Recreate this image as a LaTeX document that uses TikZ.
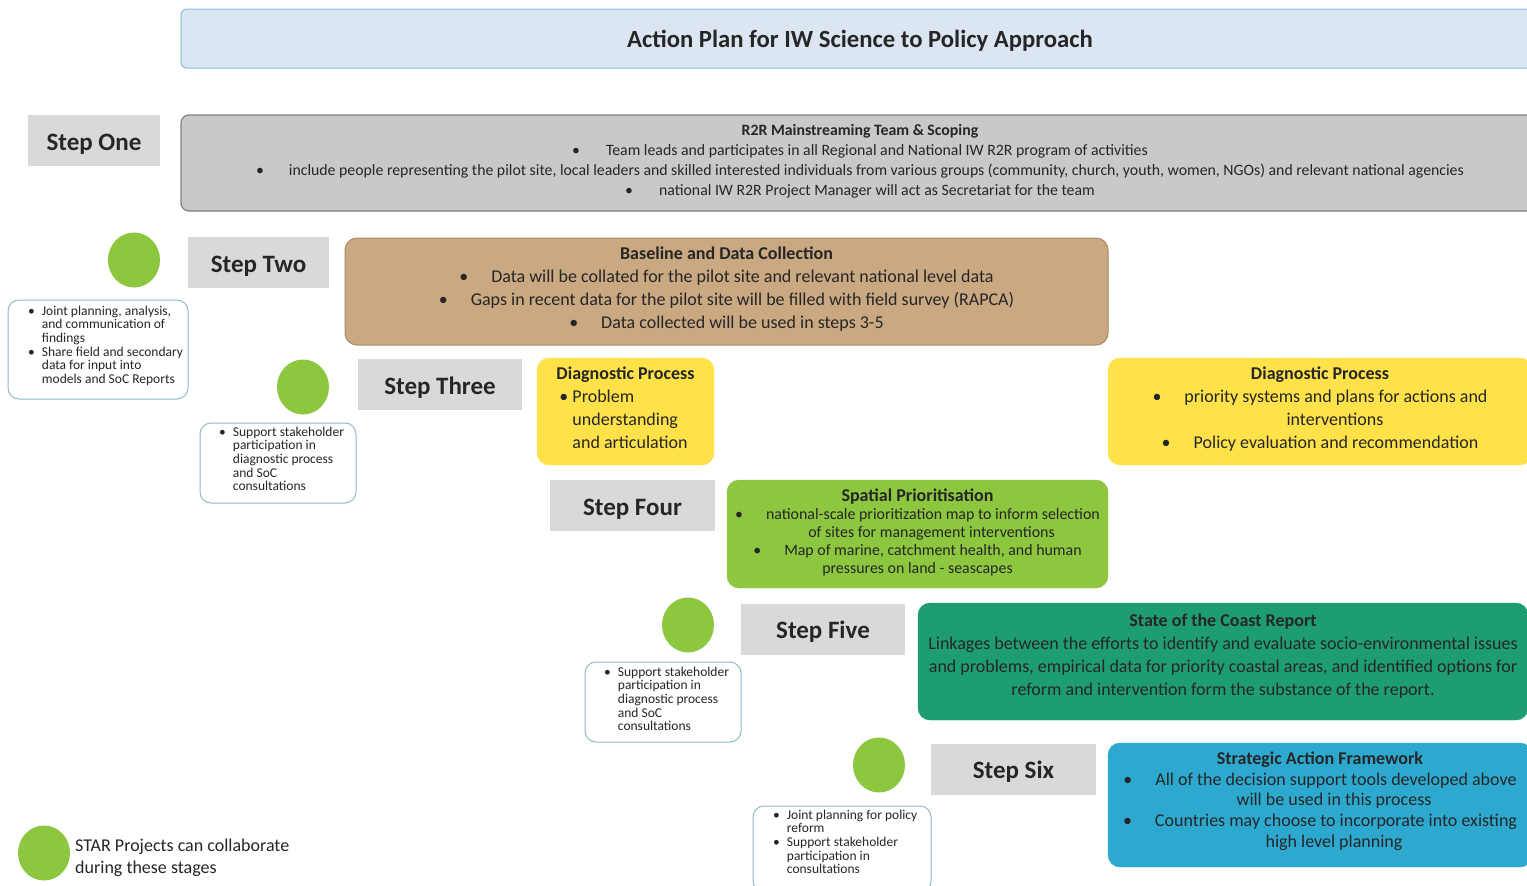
\documentclass[tikz,border=0pt]{standalone}
\usepackage{fontspec}
\setmainfont{Carlito}
\usetikzlibrary{shapes.geometric}
\definecolor{titlefill}{HTML}{DCE6F2}
\definecolor{titlebd}{HTML}{86C0D8}
\definecolor{stepgrey}{HTML}{D9D9D9}
\definecolor{onefill}{HTML}{C9C9C9}
\definecolor{onebd}{HTML}{808080}
\definecolor{tanfill}{HTML}{C9A882}
\definecolor{tanbd}{HTML}{A88B66}
\definecolor{yel}{HTML}{FFE24A}
\definecolor{spgreen}{HTML}{8DC63F}
\definecolor{teal}{HTML}{1E9C74}
\definecolor{safblue}{HTML}{2DA9CF}
\definecolor{dotgreen}{HTML}{8DC63F}
\definecolor{notebd}{HTML}{8FB9CC}
\definecolor{txt}{HTML}{262626}
\begin{document}
\begin{tikzpicture}[x=1pt,y=-1pt,
  every node/.style={text=txt},
  panel/.style={draw, rounded corners=12pt, inner sep=0pt},
  ptext/.style={inner sep=0pt, align=center},
  steplabel/.style={fill=stepgrey, inner sep=0pt, minimum height=51pt,
    text height=20pt, text depth=1pt,
    font=\fontsize{25}{29}\selectfont\bfseries},
  note/.style={draw=notebd, line width=1pt, rounded corners=11pt, fill=white, inner sep=0pt},
  notetext/.style={inner sep=0pt, anchor=base west, font=\fontsize{13.5}{13.7}\selectfont},
  dot/.style={ellipse, fill=dotgreen, inner sep=0pt, minimum width=52pt, minimum height=55pt}
]
\clip (0,0) rectangle (1527,886);
\fill[white] (0,0) rectangle (1527,886);

% title
\node[panel, rounded corners=6pt, fill=titlefill, draw=titlebd, line width=1pt,
  minimum width=1358pt, minimum height=59pt, text height=19pt, text depth=2pt,
  font=\fontsize{24.7}{28}\selectfont\bfseries]
  (title) at (860,38.5) {Action Plan for IW Science to Policy Approach};

% step labels
\node[steplabel, minimum width=132pt] (s1) at (94,140.5) {Step One};
\node[steplabel, minimum width=141pt] (s2) at (258.5,262.5) {Step Two};
\node[steplabel, minimum width=164pt] (s3) at (440,384.5) {Step Three};
\node[steplabel, minimum width=165pt] (s4) at (632.5,505.5) {Step Four};
\node[steplabel, minimum width=164pt] (s5) at (823,629) {Step Five};
\node[steplabel, minimum width=165pt] (s6) at (1013.5,769) {Step Six};

% step one panel
\node[panel, rounded corners=8pt, fill=onefill, draw=onebd, line width=1.2pt,
  minimum width=1358pt, minimum height=96pt] (p1) at (860,163) {};
\node[ptext, font=\fontsize{15.8}{20}\selectfont] (p1t) at ([yshift=2pt]p1.center)
  {\textbf{R2R Mainstreaming Team \& Scoping}\\
  •\hspace{26pt}Team leads and participates in all Regional and National IW R2R program of activities\\
  •\hspace{25pt}include people representing the pilot site, local leaders and skilled interested individuals from various groups (community, church, youth, women, NGOs) and relevant national agencies\\
  •\hspace{26pt}national IW R2R Project Manager will act as Secretariat for the team};

% baseline panel
\node[panel, fill=tanfill, draw=tanbd, line width=1pt,
  minimum width=763pt, minimum height=107pt] (p2) at (726.5,291.5) {};
\node[ptext, font=\fontsize{18}{23}\selectfont] (p2t) at ([yshift=2pt]p2.center)
  {\textbf{Baseline and Data Collection}\\
  •\hspace{23pt}Data will be collated for the pilot site and relevant national level data\\
  •\hspace{23pt}Gaps in recent data for the pilot site will be filled with field survey (RAPCA)\\
  •\hspace{23pt}Data collected will be used in steps 3-5};

% diagnostic left
\node[panel, fill=yel, draw=yel,
  minimum width=177pt, minimum height=107pt] (p3a) at (625.5,411.5) {};
\node[ptext, font=\fontsize{18}{23}\selectfont] (p3at) at ([yshift=2pt]p3a.center)
  {\begin{tabular}{@{}l@{\hspace{4pt}}l@{}}
  \multicolumn{2}{@{}c@{}}{\textbf{Diagnostic Process}}\\
  \hspace*{3pt}• & Problem\\
   & understanding\\
   & and articulation
  \end{tabular}};

% diagnostic right
\node[panel, fill=yel, draw=yel,
  minimum width=424pt, minimum height=107pt] (p3b) at (1320,411.5) {};
\node[ptext, font=\fontsize{18}{23}\selectfont] (p3bt) at ([yshift=2pt]p3b.center)
  {\textbf{Diagnostic Process}\\
  •\hspace{23pt}priority systems and plans for actions and\\
  \hspace*{30pt}interventions\\
  •\hspace{23pt}Policy evaluation and recommendation};

% spatial prioritisation
\node[panel, fill=spgreen, draw=spgreen,
  minimum width=381pt, minimum height=108pt] (p4) at (917.5,534) {};
\node[ptext, font=\fontsize{15.9}{18}\selectfont] (p4t) at ([yshift=2pt]p4.center)
  {{\fontsize{18}{18}\selectfont\textbf{Spatial Prioritisation}}\\
  •\hspace{23pt}national-scale prioritization map to inform selection\\
  \hspace*{28pt}of sites for management interventions\\
  •\hspace{23pt}Map of marine, catchment health, and human\\
  pressures on land - seascapes};

% state of the coast
\node[panel, fill=teal, draw=teal,
  minimum width=610pt, minimum height=117pt] (p5) at (1223,661.5) {};
\node[ptext, font=\fontsize{18}{23}\selectfont] (p5t) at ([yshift=5pt]p5.center)
  {\textbf{State of the Coast Report}\\
  Linkages between the efforts to identify and evaluate socio-environmental issues\\
  and problems, empirical data for priority coastal areas, and identified options for\\
  reform and intervention form the substance of the report.};

% strategic action framework
\node[panel, fill=safblue, draw=safblue,
  minimum width=424pt, minimum height=124pt] (p6) at (1320,805) {};
\node[ptext, font=\fontsize{18}{20.7}\selectfont] (p6t) at ([yshift=4pt]p6.center)
  {\textbf{Strategic Action Framework}\\
  •\hspace{23pt}All of the decision support tools developed above\\
  \hspace*{28pt}will be used in this process\\
  •\hspace{23pt}Countries may choose to incorporate into existing\\
  \hspace*{28pt}high level planning};

% green dots
\node[dot] (d1) at (134,260) {};
\node[dot] (d2) at (303,387) {};
\node[dot] (d3) at (688,625) {};
\node[dot] (d4) at (879,765) {};
\node[dot] (d5) at (44,853) {};

% notes
\node[note, minimum width=180pt, minimum height=99pt] (n1) at (98,349.5) {};
\node[notetext] (n1t) at (28,315) {\begin{tabular}[t]{@{}l@{\hspace{7pt}}l@{}}
  • & Joint planning, analysis,\\ & and communication of\\ & findings\\
  • & Share field and secondary\\ & data for input into\\ & models and SoC Reports\end{tabular}};

\node[note, minimum width=156pt, minimum height=80pt] (n2) at (278,463) {};
\node[notetext] (n2t) at (219,436) {\begin{tabular}[t]{@{}l@{\hspace{7pt}}l@{}}
  • & Support stakeholder\\ & participation in\\ & diagnostic process\\ & and SoC\\ & consultations\end{tabular}};

\node[note, minimum width=156pt, minimum height=80pt] (n3) at (663,702) {};
\node[notetext] (n3t) at (604,676) {\begin{tabular}[t]{@{}l@{\hspace{7pt}}l@{}}
  • & Support stakeholder\\ & participation in\\ & diagnostic process\\ & and SoC\\ & consultations\end{tabular}};

\node[note, minimum width=178pt, minimum height=86pt] (n4) at (842,849) {};
\node[notetext] (n4t) at (773,819) {\begin{tabular}[t]{@{}l@{\hspace{7pt}}l@{}}
  • & Joint planning for policy\\ & reform\\
  • & Support stakeholder\\ & participation in\\ & consultations\end{tabular}};

% legend
\node[inner sep=0pt, anchor=base west, font=\fontsize{18}{22}\selectfont] (leg) at (75,851)
  {\begin{tabular}[t]{@{}l@{}}STAR Projects can collaborate\\ during these stages\end{tabular}};
\end{tikzpicture}
\end{document}
